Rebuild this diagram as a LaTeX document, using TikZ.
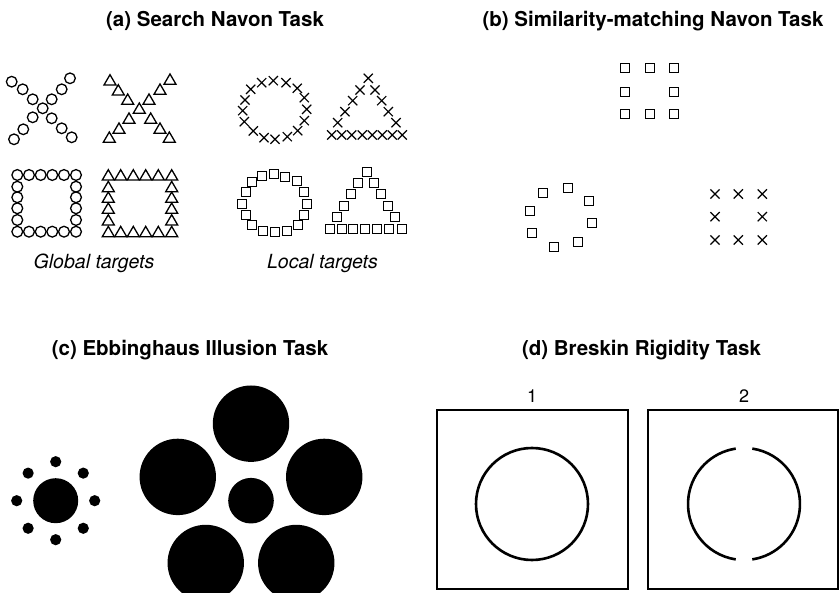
\documentclass[tikz,border=0pt]{standalone}
\usepackage{fontspec}
\setmainfont{TeX Gyre Heros}
\usetikzlibrary{calc}
\newcommand{\myo}[2]{\draw[mk] (#1,#2) circle (5.4);}
\newcommand{\mytri}[2]{\draw[mk,line join=miter] (#1-6,#2+5) -- (#1,#2-5.3) -- (#1+6,#2+5) -- cycle;}
\newcommand{\mysq}[2]{\draw[mk] (#1-4.5,#2-4.5) rectangle (#1+4.5,#2+4.5);}
\newcommand{\myx}[2]{\draw[mk,line width=1.2pt] (#1-4.6,#2-4.6) -- (#1+4.6,#2+4.6) (#1-4.6,#2+4.6) -- (#1+4.6,#2-4.6);}
\begin{document}
\begin{tikzpicture}[x=1pt,y=-1pt,
 title/.style={font=\fontsize{20.5}{24}\selectfont\bfseries, inner sep=0pt, anchor=base},
 sub/.style={font=\fontsize{19.5}{24}\selectfont\itshape, inner sep=0pt, anchor=base},
 num/.style={font=\fontsize{18}{22}\selectfont, inner sep=0pt, anchor=base},
 mk/.style={line width=1.3pt, black},
 panel/.style={draw, line width=1.1pt},
 ring/.style={line width=2.6pt},
 dot/.style={fill=black}]
\useasboundingbox (0,0) rectangle (839,593);
\clip (0,0) rectangle (839,593);

% titles
\node[title] (ta) at (215,27) {(a) Search Navon Task};
\node[title] (tb) at (653,27) {(b) Similarity-matching Navon Task};
\node[title] (tc) at (190,356) {(c) Ebbinghaus Illusion Task};
\node[title] (td) at (641.5,356) {(d) Breskin Rigidity Task};
\node[sub] (sg) at (94,269) {Global targets};
\node[sub] (sl) at (322.5,269) {Local targets};

% (a) X of circles
\foreach \p in {(11.7,81.7),(22.7,89.3),(32.7,99.3),(42.7,108.3),(51.7,99.3),(61.7,89.3),(70,78.3),(32.7,117.3),(23.3,129.3),(14,139.3),(51.7,118.3),(61.7,128.3),(71.7,137.3)}
  {\draw[mk] \p circle (5.3);}
% X of triangles
\foreach \x/\y in {110/80,118.3/90,127.7/99.3,139.3/108.3,149/99.3,160/89.3,170/79.3,129/118.3,119/128.3,109.3/137.3,150.7/118.3,160/128.3,169.3/137.3}
  {\mytri{\x}{\y}}
% square of circles
\foreach \x in {17.3,29,40.7,52.3,64,76} {\myo{\x}{175} \myo{\x}{231.7}}
\foreach \y in {186.7,197.3,208.3,220} {\myo{17.3}{\y} \myo{76}{\y}}
% square of triangles
\foreach \x in {108.3,120.7,133.3,145.7,158.3,171.7} {\mytri{\x}{175} \mytri{\x}{231.7}}
\foreach \y in {186.7,197.3,208.3,220} {\mytri{108.3}{\y} \mytri{171.7}{\y}}
% circle of x
\foreach \x/\y in {261.7/82.7,273.3/80.7,286/82.7,297.3/88.3,304.3/97.7,306.7/109.3,304.3/120.7,297.7/130.7,287.3/136.7,275/139.3,264/137.7,253.3/131,244.3/121.7,242.7/110.7,245/100,250.7/89.3}
  {\myx{\x}{\y}}
% triangle of x
\foreach \x/\y in {368.3/78.3,360/90,352.7/100.7,345/111.7,337.7/122.7,375/90,381.7/100.7,388.3/111.7,396/122.7,331.7/135,341.7/135,351.7/135,362.3/135,372.3/135,382.3/135,392.3/135,402.3/135}
  {\myx{\x}{\y}}
% circle of squares
\foreach \x/\y in {251.7/181.7,262.3/175.7,274/174.3,285.3/176.7,297.3/180.7,304.3/191.7,306.7/204,304/215,298.3/225,286.7/231,275/232.3,263.3/231,252.3/225,246/215,241.7/204.3,245.7/192.3}
  {\mysq{\x}{\y}}
% triangle of squares
\foreach \x/\y in {366.7/171.7,358.3/183.3,350.7/194,344/205.7,336.7/216.7,374/183.3,380.7/194,387.7/205.7,395/216.7,330/229,341.7/229,353.3/229,365/229,376.7/229,389.3/229,401.7/229}
  {\mysq{\x}{\y}}

% (b)
\foreach \x/\y in {625/68.3,650/68.3,674.3/68.3,625/92.3,674.3/92.3,625/114,650/114,674.3/114}
  {\mysq{\x}{\y}}
\foreach \x/\y in {543.3/192.7,567.7/188.3,589.3/201,530/210.7,592.3/222.7,532.3/233.3,578.3/241.7,554.3/246.7}
  {\mysq{\x}{\y}}
\foreach \x/\y in {715/194,738.3/194,762.3/194,715/216.7,762.3/216.7,715/240,738.3/240,762.3/240}
  {\myx{\x}{\y}}

% (c) Ebbinghaus
\coordinate (cl) at (55.7,500.7);
\coordinate (cr) at (251,500.7);
\fill[dot] (cl) circle (22.5);
\foreach \a in {0,45,...,315} {\fill[dot] ($(cl)+(\a:39)$) circle (5.6);}
\fill[dot] (cr) circle (22.8);
\foreach \a in {270,198,126,54,342} {\fill[dot] ($(cr)+(\a:77)$) circle (38.2);}

% (d) Breskin
\node[num] (n1) at (532,403) {1};
\node[num] (n2) at (744,403) {2};
\draw[panel] (437,410) rectangle (628,589);
\draw[panel] (648,410) rectangle (838,589);
\draw[ring] (532,504) circle (56);
\draw[ring] (744,504) ++(98.5:56) arc (98.5:261.5:56);
\draw[ring] (744,504) ++(-81.5:56) arc (-81.5:81.5:56);
\end{tikzpicture}
\end{document}
